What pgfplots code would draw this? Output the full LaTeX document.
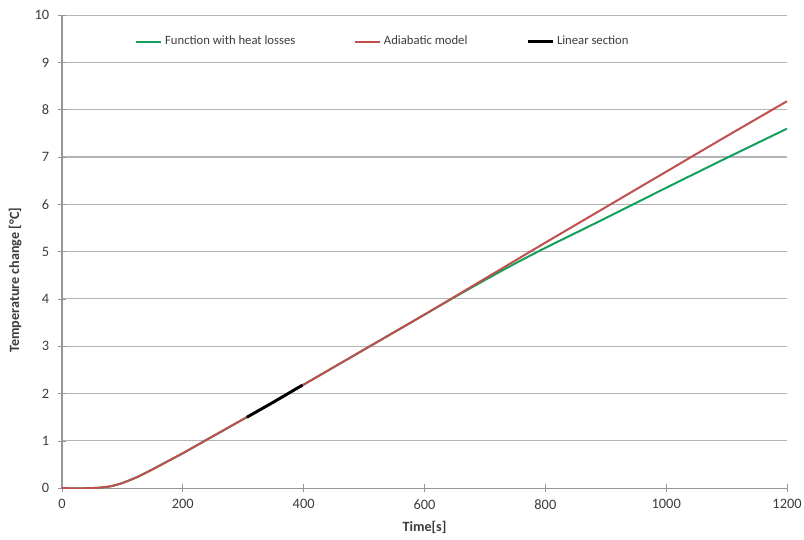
\documentclass[border=0pt]{standalone}
\usepackage{pgfplots}
\pgfplotsset{compat=1.18}
\usepackage{fontspec}
\setmainfont{Carlito}
\definecolor{cgreen}{RGB}{20,160,90}
\definecolor{cred}{RGB}{192,80,77}
\definecolor{gridc}{RGB}{180,180,180}
\definecolor{axc}{RGB}{150,150,150}
\definecolor{tickc}{RGB}{60,60,60}
\begin{document}
\begin{tikzpicture}
\begin{axis}[
  name=ax,
  scale only axis,
  width=544pt, height=355pt,
  xmin=0, xmax=1200, ymin=0, ymax=10,
  xtick={0,200,...,1200}, ytick={0,1,...,10},
  axis x line*=bottom, axis y line*=left,
  axis line style={axc, line width=0.8pt, -},
  ymajorgrids, grid style={gridc, line width=0.8pt},
  tick align=center, major tick length=6pt,
  tick style={axc, line width=0.6pt},
  tick label style={font=\fontsize{10.8}{12}\selectfont, text=tickc},
  yticklabel style={xshift=-3pt},
  xticklabel style={yshift=-2pt},
  /pgf/number format/assume math mode=true,
  /pgf/number format/1000 sep={},
  xlabel={\textbf{Time[s]}}, ylabel={\textbf{Temperature change [°C]}},
  label style={font=\fontsize{10.6}{12}\selectfont, text=tickc},
  xlabel style={at={(axis description cs:0.5,-0.082)}, anchor=center},
  ylabel style={at={(axis description cs:-0.0645,0.44)}, anchor=center},
  legend style={at={(0.443,0.944)}, anchor=center, draw=none, fill=none,
    font=\fontsize{9.5}{11}\selectfont, text=tickc, legend columns=3,
    /tikz/every even column/.append style={column sep=42pt}},
  legend image code/.code={\draw[#1] (0pt,0pt) -- (19pt,0pt);},
]
\addplot[cgreen, line width=1.5pt, smooth, tension=0.4] coordinates {
(0,0) (40,0) (60,0.01) (80,0.04) (100,0.11) (125,0.24) (150,0.40) (175,0.57)
(200,0.74) (225,0.92) (250,1.10) (275,1.28) (300,1.46) (350,1.82) (400,2.19)
(450,2.56) (500,2.93) (600,3.67) (650,4.04) (700,4.40) (750,4.75) (800,5.08)
(900,5.71) (1000,6.35) (1100,6.98) (1200,7.6)};
\addlegendentry{Function with heat losses}
\addplot[cred, line width=1.5pt, smooth, tension=0.4] coordinates {
(0,0) (40,0) (60,0.01) (80,0.04) (100,0.11) (125,0.24) (150,0.40) (175,0.57)
(200,0.74) (225,0.92) (250,1.10) (275,1.28) (300,1.46) (350,1.82) (400,2.19)
(450,2.56) (500,2.93) (600,3.67) (700,4.43) (800,5.19) (900,5.94) (1000,6.69)
(1100,7.44) (1200,8.18)};
\addlegendentry{Adiabatic model}
\addplot[black, line width=2.2pt] coordinates {(306,1.50) (350,1.82) (398,2.18)};
\addlegendentry{Linear section}
\end{axis}
\pgfresetboundingbox
\path (ax.south west) +(-46.5pt,-38.3pt) (ax.north east) +(12.7pt,11.3pt);
\end{tikzpicture}
\end{document}
